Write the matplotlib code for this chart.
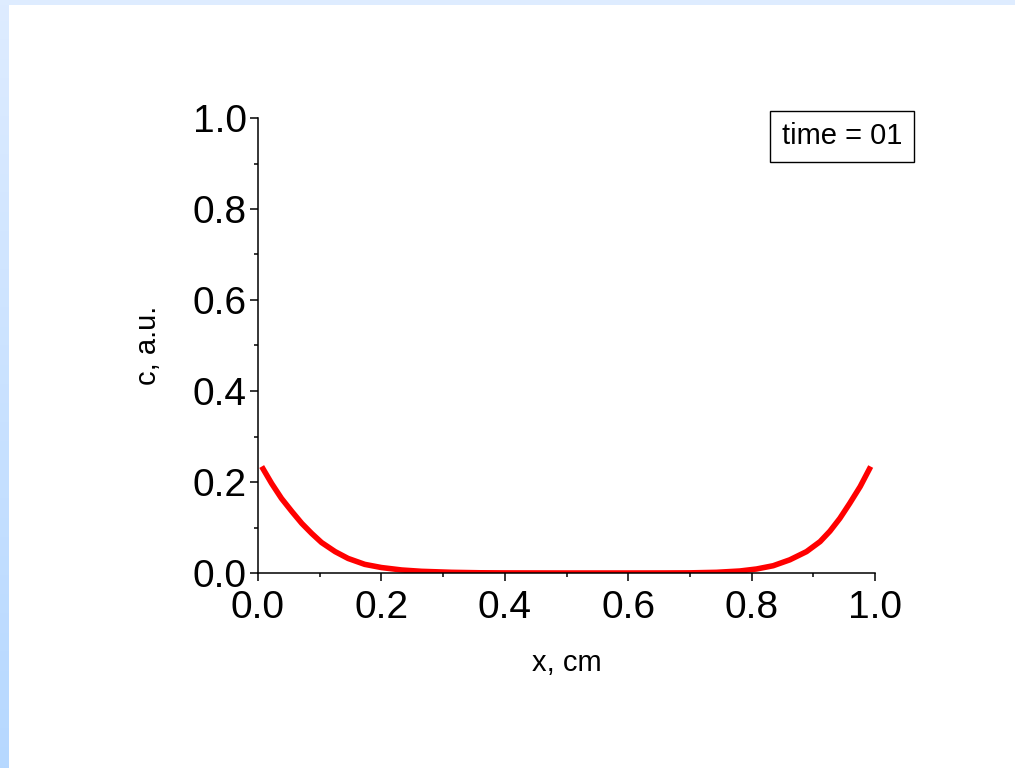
#Perfil de concentracion c(x) para time = 01.
import numpy as np
import matplotlib.pyplot as plt
from matplotlib.ticker import MultipleLocator
from matplotlib.patches import Rectangle

#Datos.
x_cm = [0.006, 0.022, 0.038, 0.055, 0.071, 0.087, 0.103, 0.125, 0.146, 0.173,
        0.2, 0.233, 0.265, 0.314, 0.36, 0.4, 0.5, 0.6, 0.66, 0.70, 0.743, 0.781,
        0.808, 0.835, 0.862, 0.889, 0.911, 0.927, 0.943, 0.959, 0.976, 0.993]
c_au = [0.234, 0.197, 0.164, 0.135, 0.109, 0.087, 0.067, 0.047, 0.032, 0.019,
        0.012, 0.0066, 0.0037, 0.0015, 0.0005, 0.0002, 0.0, 0.0, 0.0001, 0.0003,
        0.0015, 0.0044, 0.0088, 0.016, 0.029, 0.047, 0.069, 0.092, 0.120, 0.153,
        0.190, 0.234]
etiqueta = 'time = 01'

plt.rcParams['font.family'] = ['Liberation Sans', 'DejaVu Sans']

fig = plt.figure(figsize=(10.15, 7.68), dpi=100)

#Bordes azules del fondo.
fondo = fig.add_axes([0, 0, 1, 1], zorder=-10)
fondo.set_axis_off()
grad = np.linspace(0, 1, 256).reshape(-1, 1)
c_arriba = np.array([222, 236, 255]) / 255
c_abajo = np.array([182, 216, 255]) / 255
img = c_arriba + (c_abajo - c_arriba) * grad[..., None]
fondo.imshow(img, extent=[0, 9 / 1015, 0, 1], aspect='auto', origin='upper')
fondo.add_patch(Rectangle((0, 1 - 5 / 768), 1, 5 / 768, color=(222 / 255, 236 / 255, 255 / 255), lw=0))
fondo.set_xlim(0, 1)
fondo.set_ylim(0, 1)

ax = fig.add_axes([258 / 1015, 1 - 573 / 768, 617 / 1015, 455 / 768])
ax.plot(x_cm, c_au, color='#ff0000', lw=4.0, solid_capstyle='butt', solid_joinstyle='round')

ax.set_xlim(0, 1)
ax.set_ylim(0, 1)
ax.spines['top'].set_visible(False)
ax.spines['right'].set_visible(False)
for s in ('left', 'bottom'):
    ax.spines[s].set_linewidth(1.1)

ax.xaxis.set_major_locator(MultipleLocator(0.2))
ax.xaxis.set_minor_locator(MultipleLocator(0.1))
ax.yaxis.set_major_locator(MultipleLocator(0.2))
ax.yaxis.set_minor_locator(MultipleLocator(0.1))
ax.tick_params(which='major', direction='out', length=6, width=1.1, labelsize=28, pad=2)
ax.tick_params(which='minor', direction='out', length=3, width=1.1)
ax.tick_params(axis='x', which='major', pad=6)
ax.xaxis.set_major_formatter(lambda v, p: f'{v:.1f}')
ax.yaxis.set_major_formatter(lambda v, p: f'{v:.1f}')

ax.set_xlabel('x, cm', fontsize=21, labelpad=17)
ax.set_ylabel('c, a.u.', fontsize=21, labelpad=22)

ax.text(0.9465, 0.960, etiqueta, transform=ax.transAxes, fontsize=21,
        ha='center', va='center',
        bbox=dict(boxstyle='square,pad=0.4', fc='white', ec='black', lw=1.0))

fig.savefig('out.png', dpi=100)
